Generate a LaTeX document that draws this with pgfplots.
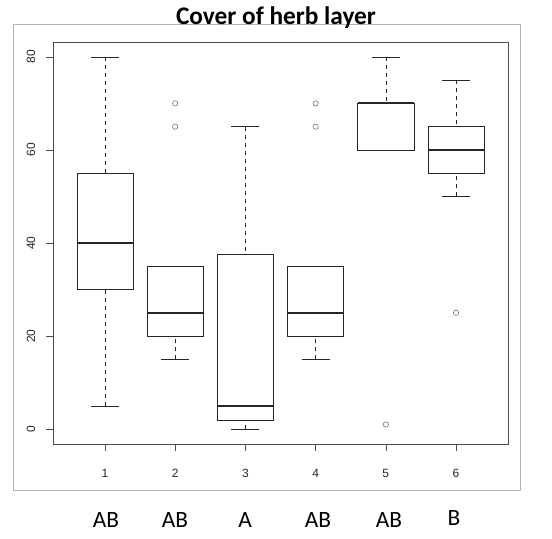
\documentclass[border=0pt]{standalone}
\usepackage{fontspec}
\setmainfont{Liberation Sans}
\newfontfamily\carlito{Carlito}
\usepackage{pgfplots}
\pgfplotsset{compat=1.18}
\usepgfplotslibrary{statistics}

\begin{document}
\begin{tikzpicture}
\begin{scope}[x=0.75pt,y=0.75pt]
\useasboundingbox (0,0) rectangle (552,538);
\draw[black!30] (13,48) rectangle (520,514);
\end{scope}
\begin{axis}[
    at={(39.75pt,70.5pt)}, anchor=south west,
    scale only axis,
    width=341.25pt, height=301.5pt,
    xmin=0.26, xmax=6.74,
    ymin=-3.2, ymax=83.2,
    xtick={1,...,6},
    ytick={0,20,...,80},
    tick align=outside,
    tick pos=left,
    major tick length=5.25pt,
    axis line style={black!70},
    tick style={black!70},
    /pgf/number format/assume math mode=true,
    ticklabel style={font=\fontsize{9}{10}\selectfont, text=black!85},
    xticklabel style={yshift=-10pt},
    yticklabel style={rotate=90, anchor=south, yshift=4.5pt},
    myplot/.style={black!85, mark=o, mark size=2pt, mark options={black!60},
        boxplot/draw direction=y,
        boxplot/box extend=0.8,
        boxplot/whisker extend=0.4,
        boxplot/every median/.style={line width=1.6pt},
        boxplot/draw/lower whisker/.code={
            \draw[dashed] (boxplot box cs:\pgfplotsboxplotvalue{lower whisker},0.5)
                -- (boxplot box cs:\pgfplotsboxplotvalue{lower quartile},0.5);
            \draw (boxplot whisker cs:\pgfplotsboxplotvalue{lower whisker},0)
                -- (boxplot whisker cs:\pgfplotsboxplotvalue{lower whisker},1);
        },
        boxplot/draw/upper whisker/.code={
            \draw[dashed] (boxplot box cs:\pgfplotsboxplotvalue{upper whisker},0.5)
                -- (boxplot box cs:\pgfplotsboxplotvalue{upper quartile},0.5);
            \draw (boxplot whisker cs:\pgfplotsboxplotvalue{upper whisker},0)
                -- (boxplot whisker cs:\pgfplotsboxplotvalue{upper whisker},1);
        }},
]
\addplot[myplot, boxplot prepared={draw position=1, lower whisker=5, lower quartile=30,
    median=40, upper quartile=55, upper whisker=80}] coordinates {};
\addplot[myplot, boxplot prepared={draw position=2, lower whisker=15, lower quartile=20,
    median=25, upper quartile=35, upper whisker=35}] coordinates {(2,65) (2,70)};
\addplot[myplot, boxplot prepared={draw position=3, lower whisker=0, lower quartile=2,
    median=5, upper quartile=37.5, upper whisker=65}] coordinates {};
\addplot[myplot, boxplot prepared={draw position=4, lower whisker=15, lower quartile=20,
    median=25, upper quartile=35, upper whisker=35}] coordinates {(4,65) (4,70)};
\addplot[myplot, boxplot prepared={draw position=5, lower whisker=60, lower quartile=60,
    median=70, upper quartile=70, upper whisker=80}] coordinates {(5,1)};
\addplot[myplot, boxplot prepared={draw position=6, lower whisker=50, lower quartile=55,
    median=60, upper quartile=65, upper whisker=75}] coordinates {(6,25)};
\end{axis}
\begin{scope}[x=0.75pt,y=0.75pt]
\node[anchor=base, font=\carlito\bfseries\fontsize{19}{22}\selectfont] at (276,513) {Cover of herb layer};
\begin{scope}[every node/.style={anchor=base, font=\carlito\fontsize{17.5}{20}\selectfont}]
\node at (106,11) {AB};
\node at (175,11) {AB};
\node at (245,11) {A};
\node at (318,11) {AB};
\node at (389,11) {AB};
\node at (454,13) {B};
\end{scope}
\end{scope}
\end{tikzpicture}
\end{document}
